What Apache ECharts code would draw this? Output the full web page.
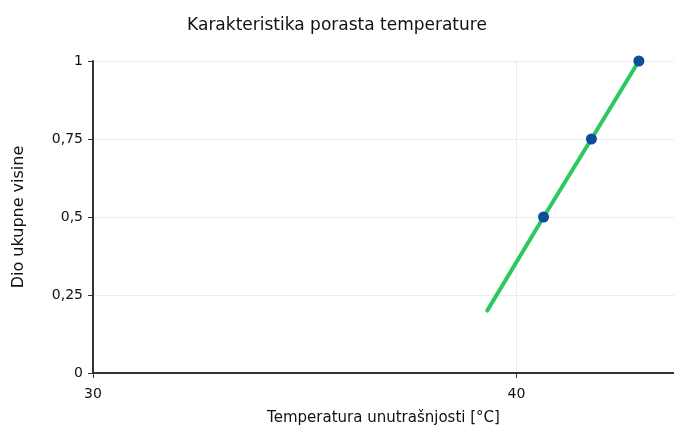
<!DOCTYPE html>
<html><head><meta charset="utf-8">
<script src="https://cdn.jsdelivr.net/npm/echarts@6/dist/echarts.min.js"></script>
<style>html,body{margin:0;padding:0;background:#fff}#c{width:674px;height:430px}</style>
</head><body><div id="c"></div>
<script>
const chartTitle = 'Karakteristika porasta temperature';
const xName = 'Temperatura unutrašnjosti [°C]';
const yName = 'Dio ukupne visine';
const lineX = [39.31, 40.64, 41.77, 42.89];
const lineY = [0.2, 0.5, 0.75, 1.0];
const pointX = [40.64, 41.77, 42.89];
const pointY = [0.5, 0.75, 1.0];
const yTickLabels = {0: '0', 0.25: '0,25', 0.5: '0,5', 0.75: '0,75', 1: '1'};

const font = 'DejaVu Sans, sans-serif';
const chart = echarts.init(document.getElementById('c'), null, {renderer: 'canvas'});
chart.setOption({
  animation: false,
  title: {text: chartTitle, left: 'center', top: 12,
    textStyle: {fontFamily: font, fontSize: 17, fontWeight: 'normal', color: '#111'}},
  grid: {left: 93, right: 0, top: 61, bottom: 57, containLabel: false, outerBoundsMode: 'none'},
  xAxis: {type: 'value', min: 30, max: 43.72, interval: 10,
    name: xName, nameLocation: 'middle', nameGap: 38,
    nameTextStyle: {fontFamily: font, fontSize: 15, color: '#111'},
    axisLine: {lineStyle: {color: '#333', width: 2}},
    axisTick: {show: true, length: 5, lineStyle: {color: '#333'}},
    axisLabel: {fontFamily: font, fontSize: 14, color: '#111', margin: 14, showMaxLabel: false},
    splitLine: {show: true, lineStyle: {color: '#ececec', width: 1}}},
  yAxis: {type: 'value', min: 0, max: 1, interval: 0.25,
    name: yName, nameLocation: 'middle', nameGap: 66,
    nameTextStyle: {fontFamily: font, fontSize: 16, color: '#111'},
    axisLine: {show: true, lineStyle: {color: '#333', width: 2}},
    axisTick: {show: true, length: 5, lineStyle: {color: '#333'}},
    axisLabel: {fontFamily: font, fontSize: 14, color: '#111', margin: 10,
      formatter: v => yTickLabels[v] !== undefined ? yTickLabels[v] : String(v).replace('.', ',')},
    splitLine: {show: true, lineStyle: {color: '#ececec', width: 1}}},
  series: [
    {type: 'line', data: lineX.map((x, i) => [x, lineY[i]]), showSymbol: false,
      lineStyle: {color: '#2dc95e', width: 4, cap: 'round'}, z: 2},
    {type: 'scatter', data: pointX.map((x, i) => [x, pointY[i]]), symbolSize: 11,
      itemStyle: {color: '#0b4f9c', opacity: 1}, z: 3}
  ]
});
</script></body></html>
